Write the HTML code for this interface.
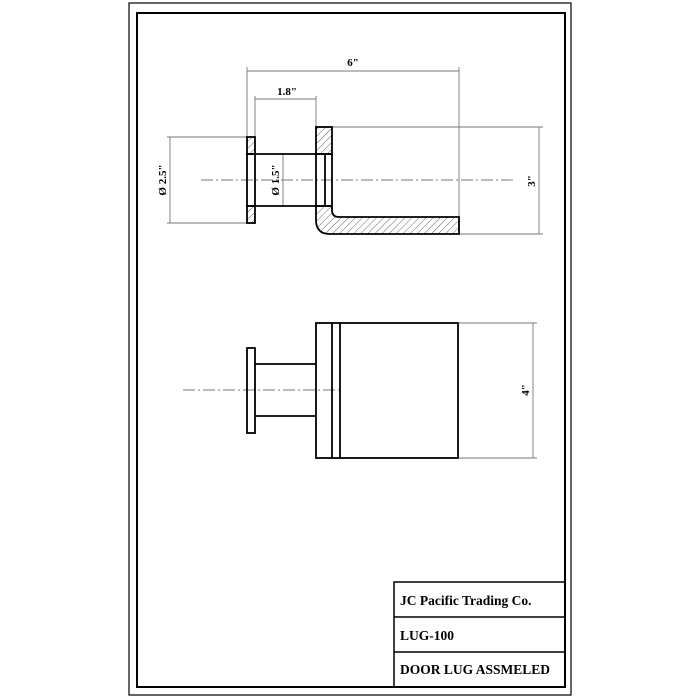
<!DOCTYPE html>
<html><head><style>body{margin:0;background:#fff}svg{display:block}</style></head>
<body>
<svg width="700" height="700" viewBox="0 0 700 700" xmlns="http://www.w3.org/2000/svg" font-family="'Liberation Serif',serif" font-weight="bold">
<defs>
<pattern id="h" patternUnits="userSpaceOnUse" width="5" height="5" patternTransform="rotate(45)">
<line x1="0" y1="0" x2="0" y2="5" stroke="#444" stroke-width="0.8"/>
</pattern>
</defs>
<rect x="129" y="3" width="442" height="692" fill="none" stroke="#000" stroke-width="1.2"/>
<rect x="137" y="13" width="428" height="674" fill="none" stroke="#000" stroke-width="2"/>
<g stroke="#000" stroke-width="1.5" fill="none">
<rect x="394" y="582" width="171" height="105"/>
<line x1="394" y1="617" x2="565" y2="617"/>
<line x1="394" y1="652" x2="565" y2="652"/>
</g>
<g font-size="13.5">
<text x="400" y="605">JC Pacific Trading Co.</text>
<text x="400" y="640">LUG-100</text>
<text x="400" y="674">DOOR LUG ASSMELED</text>
</g>
<g stroke="#777" stroke-width="0.9" fill="none">
<line x1="247" y1="67" x2="247" y2="137"/>
<line x1="459" y1="67" x2="459" y2="217"/>
<line x1="247" y1="71" x2="459" y2="71"/>
<line x1="255" y1="96" x2="255" y2="154"/>
<line x1="316" y1="96" x2="316" y2="127"/>
<line x1="255" y1="99" x2="316" y2="99"/>
<line x1="167" y1="137" x2="247" y2="137"/>
<line x1="167" y1="223" x2="247" y2="223"/>
<line x1="170" y1="137" x2="170" y2="223"/>
<line x1="283" y1="154" x2="283" y2="206"/>
<line x1="332" y1="127" x2="543" y2="127"/>
<line x1="459" y1="234" x2="543" y2="234"/>
<line x1="539" y1="127" x2="539" y2="234"/>
<line x1="201" y1="180" x2="513" y2="180" stroke-dasharray="12,3,2,3"/>
</g>
<g font-size="11">
<text x="353" y="66" text-anchor="middle">6"</text>
<text x="287" y="95" text-anchor="middle">1.8"</text>
<text transform="translate(166,180) rotate(-90)" text-anchor="middle">Ø 2.5"</text>
<text transform="translate(279,180) rotate(-90)" text-anchor="middle">Ø 1.5"</text>
<text transform="translate(535,181) rotate(-90)" text-anchor="middle">3"</text>
</g>
<g stroke="#000" stroke-width="1.8">
<rect x="247" y="137" width="8" height="17" fill="url(#h)"/>
<rect x="247" y="206" width="8" height="17" fill="url(#h)"/>
<rect x="247" y="154" width="8" height="52" fill="none"/>
<rect x="316" y="127" width="16" height="27" fill="url(#h)"/>
<path d="M316 206 H332 V210 Q332 217 339 217 H459 V234 H330 Q316 234 316 220 Z" fill="url(#h)"/>
<line x1="255" y1="154" x2="332" y2="154"/>
<line x1="255" y1="206" x2="332" y2="206"/>
<line x1="325" y1="154" x2="325" y2="206"/>
<line x1="316" y1="154" x2="316" y2="206"/>
<line x1="332" y1="154" x2="332" y2="206"/>
</g>
<g stroke="#777" stroke-width="0.9" fill="none">
<line x1="458" y1="323" x2="537" y2="323"/>
<line x1="458" y1="458" x2="537" y2="458"/>
<line x1="533" y1="323" x2="533" y2="458"/>
<line x1="183" y1="390" x2="340" y2="390" stroke-dasharray="12,3,2,3"/>
</g>
<text transform="translate(529,390) rotate(-90)" text-anchor="middle" font-size="11">4"</text>
<g stroke="#000" stroke-width="1.8" fill="none">
<rect x="247" y="348" width="8" height="85"/>
<line x1="255" y1="364" x2="316" y2="364"/>
<line x1="255" y1="416" x2="316" y2="416"/>
<rect x="316" y="323" width="142" height="135"/>
<line x1="332" y1="323" x2="332" y2="458"/>
<line x1="340" y1="323" x2="340" y2="458"/>
</g>
</svg>
</body></html>
